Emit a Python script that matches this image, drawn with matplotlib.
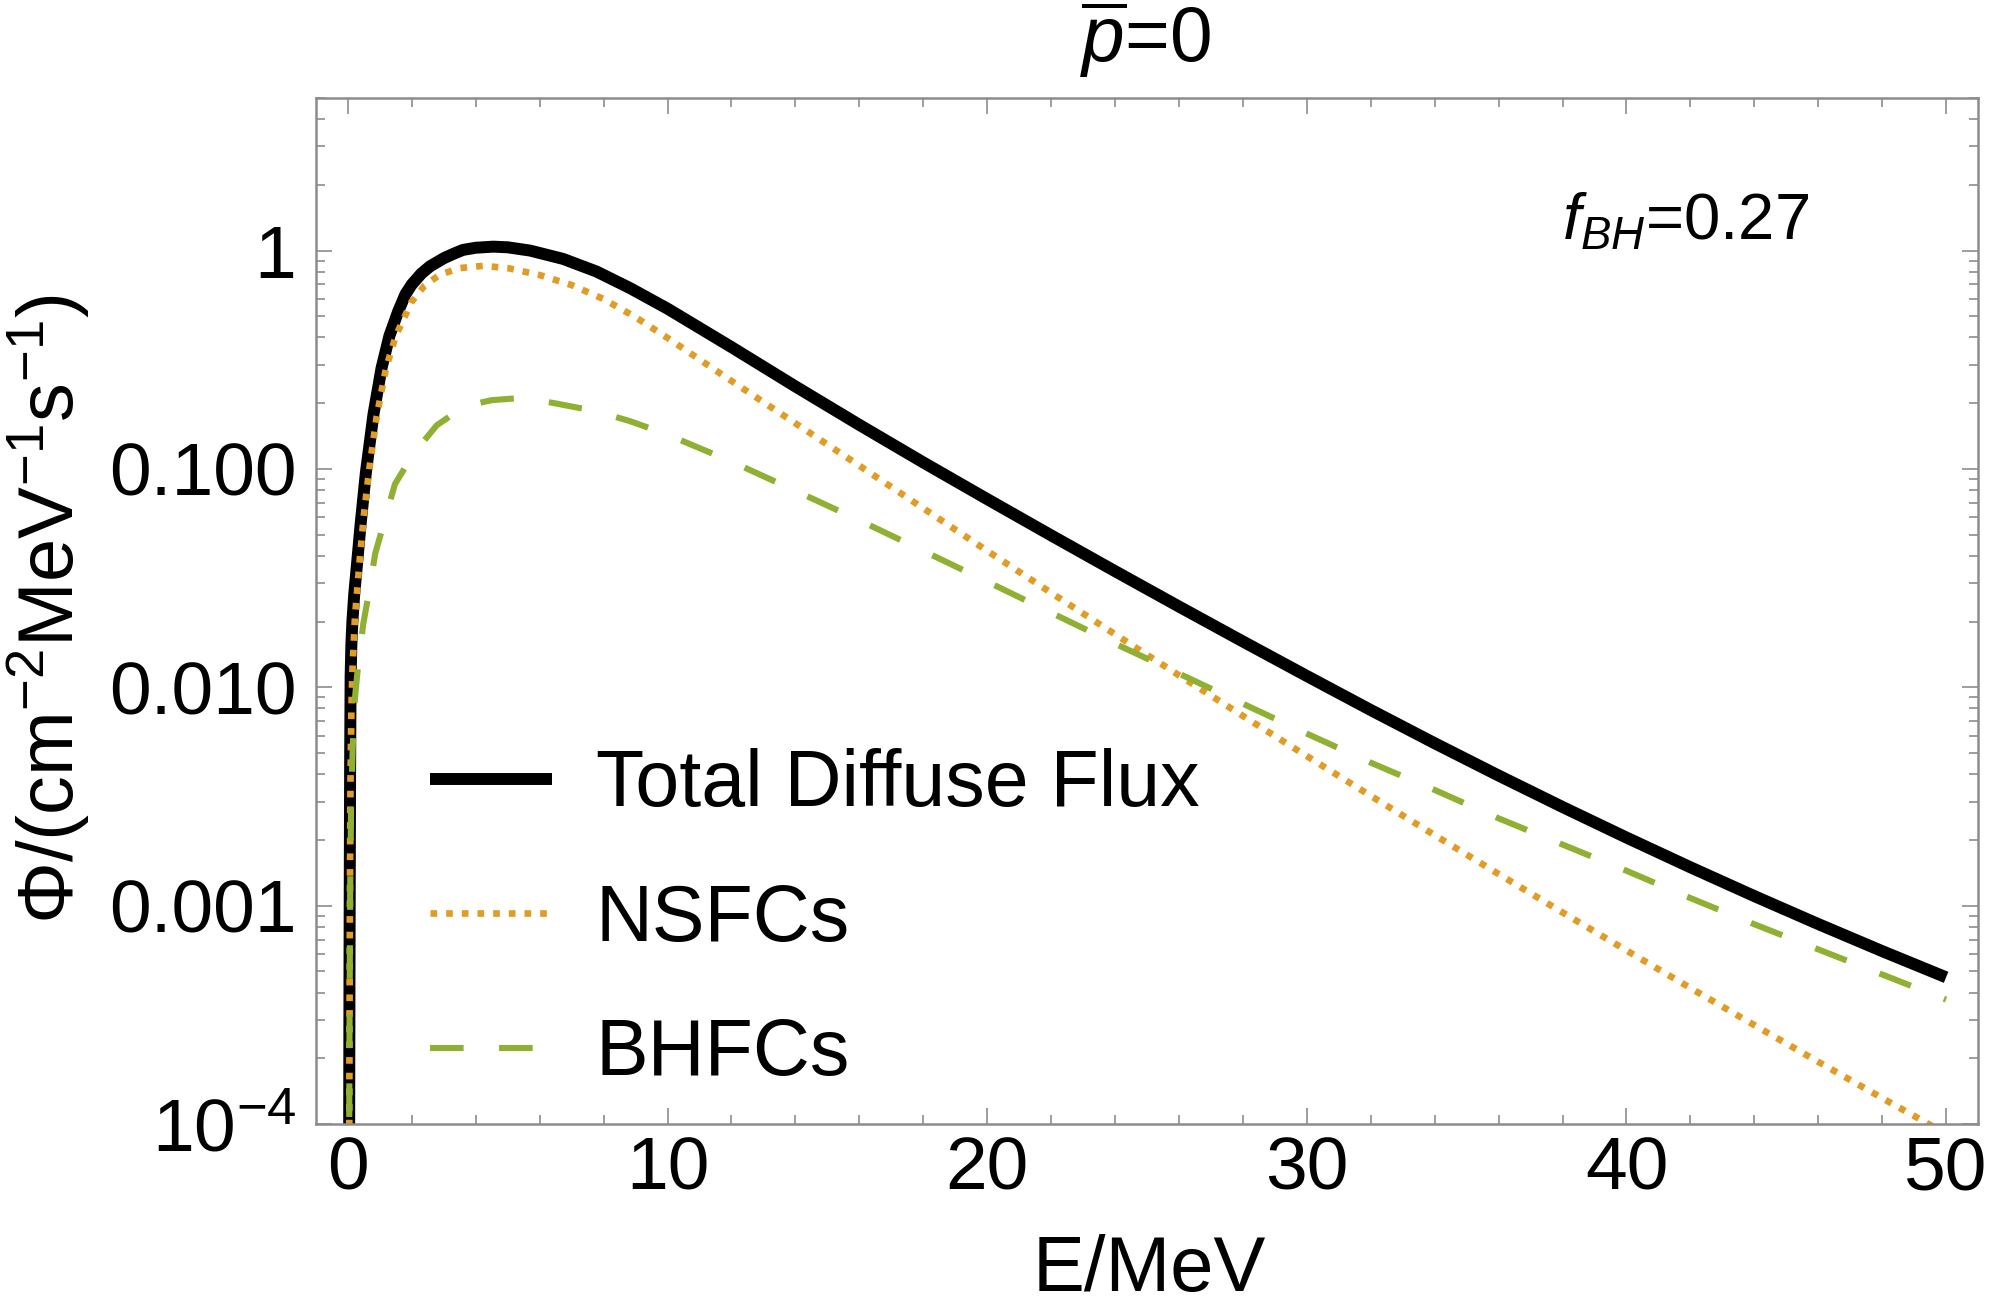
import numpy as np
import matplotlib
matplotlib.use('Agg')
import matplotlib.pyplot as plt
from matplotlib.ticker import FixedLocator, FixedFormatter, NullFormatter

plt.rcParams['font.family'] = ['Liberation Sans', 'DejaVu Sans']
plt.rcParams['mathtext.fontset'] = 'custom'
plt.rcParams['mathtext.rm'] = 'Liberation Sans'
plt.rcParams['mathtext.it'] = 'Liberation Sans:italic'
plt.rcParams['mathtext.bf'] = 'Liberation Sans:bold'

# ---- data (E in MeV, flux as log10 values) ----
E_total = [0.03, 0.04, 0.05, 0.06, 0.07, 0.085, 0.11, 0.14, 0.2, 0.27, 0.4, 0.56, 0.8,
           1.05, 1.3, 1.57, 1.8, 2.0, 2.3, 2.57, 3.0, 3.3, 3.6, 4.0, 4.55, 5.0, 5.7, 6.73,
           7.78, 8.83, 10, 12, 14, 16, 18, 20, 22, 24, 26, 28, 30, 32, 34, 36, 38, 40,
           42, 44, 46, 48, 50]
total_log10 = [-4.5, -4.0, -3.3, -2.8, -2.35, -1.95, -1.8, -1.7, -1.57, -1.46, -1.25, -1.02, -0.75,
               -0.54, -0.39, -0.28, -0.2, -0.155, -0.105, -0.072, -0.035, -0.015, 0.003, 0.013,
               0.018, 0.015, 0.0, -0.038, -0.096, -0.172, -0.266, -0.442, -0.622, -0.798,
               -0.970, -1.138, -1.304, -1.468, -1.630, -1.790, -1.948, -2.104, -2.256, -2.404,
               -2.548, -2.688, -2.824, -2.956, -3.084, -3.208, -3.328]

E_ns = [0.03, 0.04, 0.05, 0.06, 0.08, 0.11, 0.14, 0.22, 0.35, 0.5, 0.67, 0.9, 1.19, 1.5,
        1.99, 2.4, 2.88, 3.5, 4.23, 5.0, 6, 7, 8, 9, 10, 12, 14, 16, 18, 20, 22, 24, 26,
        28, 30, 32, 34, 36, 38, 40, 42, 44, 46, 48, 50]
ns_log10 = [-4.8, -4.2, -3.6, -3.1, -2.45, -2.1, -1.93, -1.68, -1.45, -1.21, -1.0, -0.76, -0.54,
            -0.39, -0.235, -0.16, -0.11, -0.08, -0.07, -0.08, -0.112, -0.158, -0.222, -0.305,
            -0.40, -0.597, -0.791, -0.985, -1.18, -1.375, -1.567, -1.757, -1.945, -2.131,
            -2.315, -2.497, -2.677, -2.855, -3.031, -3.205, -3.377, -3.547, -3.715, -3.881,
            -4.045]

E_bh = [0.03, 0.04, 0.05, 0.07, 0.1, 0.15, 0.22, 0.32, 0.48, 0.69, 0.85, 1.16, 1.47, 2.05,
        2.78, 3.66, 4.5, 5.5, 6.5, 7.75, 8.8, 9.9, 11.95, 14.0, 16, 18, 20, 22, 24, 26, 28,
        30, 32, 34, 36, 38, 40, 42, 44, 46, 48, 50]
bh_log10 = [-4.6, -4.1, -3.6, -2.95, -2.55, -2.28, -2.05, -1.9, -1.71, -1.54, -1.39, -1.23,
            -1.07, -0.93, -0.80, -0.712, -0.685, -0.674, -0.70, -0.735, -0.78, -0.837, -0.963,
            -1.10, -1.235, -1.375, -1.516, -1.658, -1.80, -1.937, -2.075, -2.212, -2.345,
            -2.47, -2.6, -2.72, -2.84, -2.965, -3.085, -3.20, -3.315, -3.43]

labels = ['Total Diffuse Flux', 'NSFCs', 'BHFCs']
x_major = [0, 10, 20, 30, 40, 50]
y_major = [1e-4, 1e-3, 1e-2, 1e-1, 1]
y_major_labels = ['$10^{-4}$', '0.001', '0.010', '0.100', '1']

# ---- figure ----
fig = plt.figure(figsize=(9.96, 6.565), dpi=200)
ax = fig.add_axes([0.1586, 0.1439, 0.8344, 0.7815])

ax.plot(E_total, 10 ** np.array(total_log10), color='black', lw=4.3,
        solid_capstyle='butt', solid_joinstyle='round', label=labels[0])
ax.plot(E_ns, 10 ** np.array(ns_log10), color='#E09C24', lw=2.4,
        linestyle=(0, (1.0, 1.35)), label=labels[1])
ax.plot(E_bh, 10 ** np.array(bh_log10), color='#8FB032', lw=2.2,
        linestyle=(0, (5.5, 5.8)), label=labels[2])

ax.set_yscale('log')
ax.set_xlim(-1, 51)
ax.set_ylim(1e-4, 5)

ax.xaxis.set_major_locator(FixedLocator(x_major))
ax.xaxis.set_minor_locator(FixedLocator([v for v in range(0, 51, 2) if v % 10 != 0]))
ax.yaxis.set_major_locator(FixedLocator(y_major))
ax.yaxis.set_major_formatter(FixedFormatter(y_major_labels))
minor_y = [k * 10.0 ** d for d in range(-4, 1) for k in range(2, 10) if k * 10.0 ** d <= 5]
ax.yaxis.set_minor_locator(FixedLocator(minor_y))
ax.yaxis.set_minor_formatter(NullFormatter())

tick_col = '#8c8c8c'
ax.tick_params(which='both', direction='in', top=True, right=True, color=tick_col,
               width=0.6, labelsize=27)
ax.tick_params(which='major', length=5.8)
ax.tick_params(which='minor', length=3.4)
ax.tick_params(axis='x', which='major', pad=4)
ax.tick_params(axis='y', which='major', pad=7)
for s in ax.spines.values():
    s.set_color(tick_col)
    s.set_linewidth(0.9)

leg = ax.legend(loc='lower left', bbox_to_anchor=(0.0686, 0.0308), frameon=False,
                fontsize=28.4, handlelength=1.55, handletextpad=0.55, labelspacing=0.755,
                borderpad=0, borderaxespad=0)

fig.text(0.575, 0.9528, r'$\overline{p}$=0', ha='center', va='baseline', fontsize=27.6)
ax.text(0.7497, 0.8616, r'$f_{BH}$=0.27', transform=ax.transAxes, fontsize=23.5,
        ha='left', va='baseline')
fig.text(0.5768, 0.01676, 'E/MeV', ha='center', va='baseline', fontsize=28)
fig.text(0.0241, 0.5362, 'Φ/(cm$^{-2}$MeV$^{-1}$s$^{-1}$)', rotation=90,
         ha='center', va='center', fontsize=28)

fig.savefig('out.png', dpi=200)
